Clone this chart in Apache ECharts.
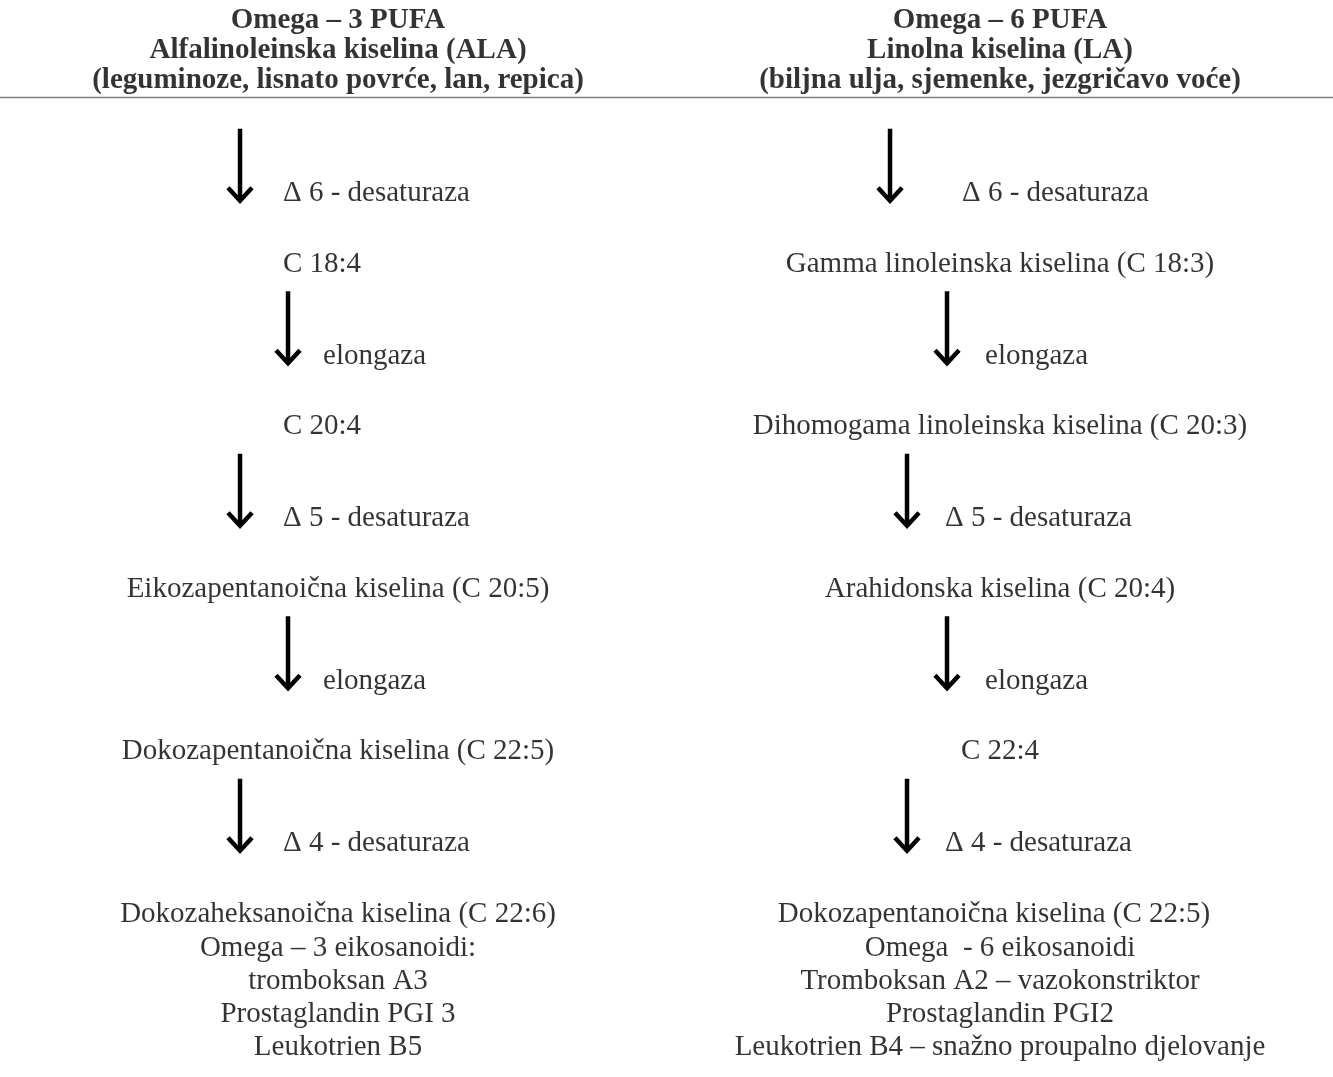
<!DOCTYPE html>
<html>
<head>
<meta charset="utf-8">
<script src="https://cdn.jsdelivr.net/npm/echarts@6/dist/echarts.min.js"></script>
<style>
html,body{margin:0;padding:0;background:#fff;}
#chart{width:1333px;height:1077px;}
</style>
</head>
<body>
<div id="chart"></div>
<script>
// ---- data ----
const leftHeader = ['Omega – 3 PUFA', 'Alfalinoleinska kiselina (ALA)', '(leguminoze, lisnato povrće, lan, repica)'];
const rightHeader = ['Omega – 6 PUFA', 'Linolna kiselina (LA)', '(biljna ulja, sjemenke, jezgričavo voće)'];
const leftEnzymes = ['Δ 6 - desaturaza', 'elongaza', 'Δ 5 - desaturaza', 'elongaza', 'Δ 4 - desaturaza'];
const rightEnzymes = ['Δ 6 - desaturaza', 'elongaza', 'Δ 5 - desaturaza', 'elongaza', 'Δ 4 - desaturaza'];
const leftProducts = ['C 18:4', 'C 20:4', 'Eikozapentanoična kiselina (C 20:5)', 'Dokozapentanoična kiselina (C 22:5)', 'Dokozaheksanoična kiselina (C 22:6)'];
const rightProducts = ['Gamma linoleinska kiselina (C 18:3)', 'Dihomogama linoleinska kiselina (C 20:3)', 'Arahidonska kiselina (C 20:4)', 'C 22:4', 'Dokozapentanoična kiselina (C 22:5)'];
const leftEicosanoids = ['Omega – 3 eikosanoidi:', 'tromboksan A3', 'Prostaglandin PGI 3', 'Leukotrien B5'];
const rightEicosanoids = ['Omega  - 6 eikosanoidi', 'Tromboksan A2 – vazokonstriktor', 'Prostaglandin PGI2', 'Leukotrien B4 – snažno proupalno djelovanje'];

// ---- layout (pixel nudges, kept apart from data) ----
const arrowDx = [[-98, -50, -98, -50, -98], [-110, -53, -93, -53, -93]];
const enzymeDx = [[-55, -15, -55, -15, -55], [-38, -15, -55, -15, -55]];
const productDx = [[-16, -16, 0, 0, 0], [0, 0, 0, 0, -6]];
const FONT = "'Liberation Serif', 'Times New Roman', serif";
const FS = 29;

const headers = [leftHeader, rightHeader];
const enzymes = [leftEnzymes, rightEnzymes];
const products = [leftProducts, rightProducts];
const eicos = [leftEicosanoids, rightEicosanoids];

const headerData = headers.map((h, c) => ({ value: [c, 0], name: h.join('\n') }));
const productData = [];
const enzymeData = [];
const arrowData = [];
products.forEach((list, c) => list.forEach((p, i) => {
  productData.push({ value: [c, i + 1], name: p, label: { offset: [productDx[c][i], 0] } });
}));
enzymes.forEach((list, c) => list.forEach((e, i) => {
  enzymeData.push({ value: [c, i + 0.5], name: e, label: { offset: [enzymeDx[c][i], 11] } });
  arrowData.push([c, i + 0.5, i]);
}));
const eicoData = eicos.map((lines, c) => ({ value: [c, products[c].length], name: lines.join('\n') }));

const hidden = { color: 'rgba(0,0,0,0)' };
const baseLabel = { show: true, position: 'inside', color: '#000', textBorderWidth: 0, fontFamily: FONT, fontSize: FS, formatter: p => p.name };

const option = {
  animation: false,
  backgroundColor: '#fff',
  grid: { left: 0, right: 0, top: 101.5, bottom: 0.5 },
  xAxis: { type: 'value', min: -0.5106, max: 1.503, show: false },
  yAxis: { type: 'value', min: 0, max: 6, inverse: true, show: false },
  series: [
    {
      type: 'scatter', name: 'headers', symbolSize: 1, itemStyle: hidden, clip: false, silent: true,
      data: headerData,
      label: Object.assign({}, baseLabel, { fontWeight: 'bold', lineHeight: 30, verticalAlign: 'bottom', offset: [0, -6] })
    },
    {
      type: 'custom', name: 'rule', silent: true, clip: false,
      data: [[0, 0]],
      renderItem: function (params, api) {
        const p = api.coord([api.value(0), api.value(1)]);
        const cs = params.coordSys;
        const y = Math.round(p[1] - 4.5) + 0.5;
        return { type: 'line', shape: { x1: cs.x, y1: y, x2: cs.x + cs.width, y2: y }, style: { stroke: '#7f7f7f', lineWidth: 1.5 } };
      }
    },
    {
      type: 'scatter', name: 'products', symbolSize: 1, itemStyle: hidden, clip: false, silent: true,
      data: productData,
      label: Object.assign({}, baseLabel)
    },
    {
      type: 'scatter', name: 'enzymes', symbolSize: 1, itemStyle: hidden, clip: false, silent: true,
      data: enzymeData,
      label: Object.assign({}, baseLabel, { align: 'left' })
    },
    {
      type: 'scatter', name: 'eicosanoids', symbolSize: 1, itemStyle: hidden, clip: false, silent: true,
      data: eicoData,
      label: Object.assign({}, baseLabel, { lineHeight: 33, verticalAlign: 'top', offset: [0, 18] })
    },
    {
      type: 'custom', name: 'arrows', silent: true, clip: false,
      data: arrowData,
      renderItem: function (params, api) {
        const c = api.value(0), r = api.value(1), idx = api.value(2);
        const p = api.coord([c, r]);
        const x = p[0] + arrowDx[c][idx];
        const tip = p[1] + 18;
        return {
          type: 'group',
          children: [
            { type: 'line', shape: { x1: x, y1: tip - 72, x2: x, y2: tip - 2 }, style: { stroke: '#000', lineWidth: 4.5 } },
            { type: 'polyline', shape: { points: [[x - 12, tip - 13], [x, tip], [x + 12, tip - 13]] }, style: { stroke: '#000', lineWidth: 4.5, fill: null, lineJoin: 'miter' } }
          ]
        };
      }
    }
  ]
};

const chart = echarts.init(document.getElementById('chart'), null, { renderer: 'canvas' });
chart.setOption(option);
</script>
</body>
</html>
